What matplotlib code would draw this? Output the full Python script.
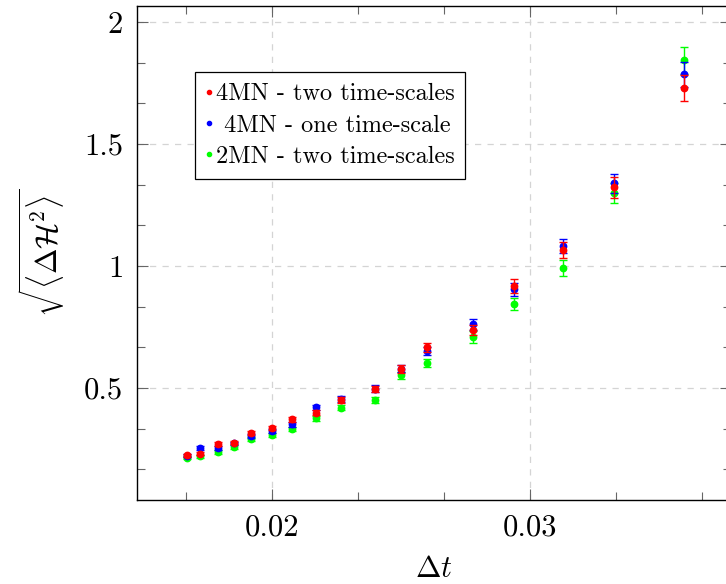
import matplotlib
matplotlib.use('Agg')
import matplotlib.pyplot as plt
import numpy as np
from matplotlib.lines import Line2D
from matplotlib.ticker import MultipleLocator, AutoMinorLocator

plt.rcParams['font.family'] = 'serif'
plt.rcParams['font.serif'] = ['cmr10', 'DejaVu Serif']
plt.rcParams['mathtext.fontset'] = 'cm'
plt.rcParams['axes.formatter.use_mathtext'] = True

# time steps
dt = [0.01672, 0.01722, 0.01792, 0.01852, 0.01921, 0.02001, 0.02080, 0.02171, 0.02270,
      0.02400, 0.02499, 0.02600, 0.02779, 0.02938, 0.03128, 0.03328, 0.03597]

# 4MN - two time-scales
red_y = [0.225, 0.230, 0.270, 0.276, 0.317, 0.335, 0.372, 0.399, 0.451,
         0.497, 0.578, 0.667, 0.738, 0.918, 1.066, 1.323, 1.730]
red_err = [0.006, 0.006, 0.007, 0.007, 0.008, 0.009, 0.010, 0.011, 0.012,
           0.013, 0.016, 0.019, 0.021, 0.030, 0.033, 0.042, 0.053]

# 4MN - one time-scale
blue_y = [0.222, 0.254, 0.254, 0.273, 0.305, 0.324, 0.352, 0.421, 0.455,
          0.497, 0.580, 0.652, 0.761, 0.904, 1.083, 1.339, 1.786]
blue_err = [0.006, 0.007, 0.007, 0.007, 0.008, 0.009, 0.010, 0.011, 0.012,
            0.014, 0.016, 0.018, 0.023, 0.027, 0.029, 0.038, 0.052]

# 2MN - two time-scales
green_y = [0.215, 0.221, 0.238, 0.258, 0.290, 0.306, 0.333, 0.376, 0.419,
           0.450, 0.552, 0.602, 0.708, 0.845, 0.991, 1.299, 1.843]
green_err = [0.006, 0.006, 0.007, 0.007, 0.008, 0.008, 0.009, 0.010, 0.011,
             0.012, 0.015, 0.017, 0.024, 0.025, 0.033, 0.040, 0.056]

labels = ['4MN - two time-scales', ' 4MN - one time-scale', '2MN - two time-scales']
colors = ['#ff0000', '#0000ff', '#00ff00']

fig = plt.figure(figsize=(7.26, 5.84), dpi=100)
ax = fig.add_axes([0.1887, 0.1438, 0.818, 0.8459])

style = dict(fmt='o', markersize=4.6, capsize=2.6, elinewidth=1.0, capthick=1.0, linestyle='none')
ax.errorbar(dt, green_y, yerr=green_err, color=colors[2], zorder=3, **style)
ax.errorbar(dt, blue_y, yerr=blue_err, color=colors[1], zorder=4, **style)
ax.errorbar(dt, red_y, yerr=red_err, color=colors[0], zorder=5, **style)

ax.set_xlim(0.01477, 0.0378)
ax.set_ylim(0.041, 2.066)

ax.xaxis.set_major_locator(MultipleLocator(0.01))
ax.xaxis.set_minor_locator(AutoMinorLocator(3))
ax.yaxis.set_major_locator(MultipleLocator(0.5))
ax.yaxis.set_minor_locator(AutoMinorLocator(3))
ax.set_xticks([0.02, 0.03])
ax.set_xticklabels(['0.02', '0.03'])
ax.set_yticks([0.5, 1, 1.5, 2])
ax.set_yticklabels(['0.5', '1', '1.5', '2'])

ax.tick_params(which='both', direction='in', top=True, right=True, labelsize=22, color='#666666')
ax.tick_params(which='major', length=8, width=0.8, pad=10)
ax.tick_params(which='minor', length=6, width=0.8)

ax.grid(True, which='major', color='#d4d4d4', linestyle=(0, (5, 5)), linewidth=0.9)
ax.set_axisbelow(True)
for sp in ax.spines.values():
    sp.set_linewidth(1.0)

ax.set_xlabel(r'$\Delta t$', fontsize=22, labelpad=10)
ax.set_ylabel(r'$\sqrt{\langle \Delta \mathcal{H}^2 \rangle}$', fontsize=22, labelpad=12)

handles = [Line2D([], [], marker='o', linestyle='none', markersize=3, color=c) for c in colors]
leg = ax.legend(handles, labels,
                loc='upper left', bbox_to_anchor=(0.0976, 0.866), borderaxespad=0,
                fontsize=17.5, handlelength=0.25, handletextpad=0.15, labelspacing=0.38,
                borderpad=0.45, fancybox=False, framealpha=1, edgecolor='black')
leg.get_frame().set_linewidth(0.9)

fig.savefig('out.png', dpi=100)
